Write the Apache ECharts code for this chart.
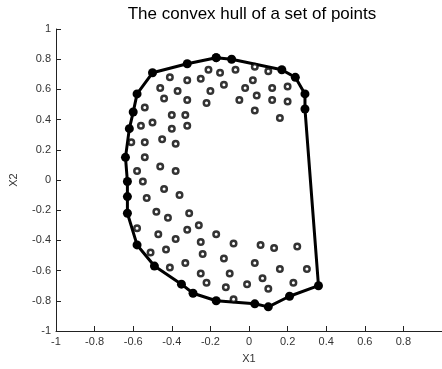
<!DOCTYPE html>
<html>
<head>
<meta charset="utf-8">
<script src="https://cdn.jsdelivr.net/npm/echarts@6/dist/echarts.min.js"></script>
<style>
  html, body { margin: 0; padding: 0; background: #fff; }
  #chart { width: 442px; height: 369px; }
</style>
</head>
<body>
<div id="chart"></div>
<script>
// hull vertices, clockwise from the top
var hullPoints = [
    [-0.17, 0.81], [-0.09, 0.80], [0.17, 0.73], [0.24, 0.68], [0.29, 0.57],
    [0.29, 0.47], [0.36, -0.70], [0.21, -0.77], [0.10, -0.84], [0.03, -0.82],
    [-0.17, -0.80], [-0.29, -0.75], [-0.35, -0.69], [-0.49, -0.57], [-0.58, -0.43],
    [-0.63, -0.22], [-0.63, -0.11], [-0.63, -0.01], [-0.64, 0.15], [-0.62, 0.34],
    [-0.60, 0.45], [-0.58, 0.57], [-0.50, 0.71], [-0.32, 0.77], [-0.17, 0.81]
];

// the remaining points of the set
var setPoints = [
    [0.03, 0.75], [0.10, 0.72], [-0.08, -0.79],
    [-0.41, 0.68], [-0.32, 0.66], [-0.25, 0.67], [-0.21, 0.73], [-0.15, 0.71],
    [-0.46, 0.61], [-0.37, 0.59], [-0.20, 0.59], [-0.13, 0.63], [-0.44, 0.54],
    [-0.32, 0.53], [-0.22, 0.51], [-0.54, 0.48], [-0.40, 0.43], [-0.33, 0.43],
    [-0.56, 0.36], [-0.50, 0.38], [-0.32, 0.36], [-0.40, 0.34], [-0.54, 0.25],
    [-0.45, 0.27], [-0.38, 0.24], [-0.61, 0.25], [-0.54, 0.15], [-0.58, 0.06],
    [-0.46, 0.09], [-0.38, 0.06], [-0.55, -0.01], [-0.44, -0.06], [-0.36, -0.10],
    [-0.53, -0.12], [-0.48, -0.21], [-0.42, -0.25], [-0.31, -0.22], [-0.58, -0.32],
    [-0.47, -0.36], [-0.38, -0.39], [-0.32, -0.33], [-0.26, -0.30], [-0.25, -0.41],
    [-0.17, -0.36], [-0.51, -0.48], [-0.43, -0.46], [-0.24, -0.49], [-0.41, -0.58],
    [-0.33, -0.55], [-0.25, -0.62], [-0.22, -0.68], [-0.08, -0.42], [0.06, -0.43],
    [0.13, -0.45], [0.25, -0.44], [-0.13, -0.52], [0.03, -0.55], [0.16, -0.59],
    [0.30, -0.59], [-0.10, -0.62], [0.07, -0.65], [-0.12, -0.71], [-0.01, -0.69],
    [0.10, -0.72], [0.23, -0.68], [-0.07, 0.73], [0.02, 0.66], [-0.02, 0.61],
    [0.12, 0.61], [0.20, 0.62], [-0.05, 0.53], [0.04, 0.56], [0.12, 0.53],
    [0.20, 0.52], [0.03, 0.46], [0.16, 0.41]
];

var axisMin = -1;
var axisMax = 1;
var axisStep = 0.2;

var font = '"Liberation Sans", Arial, sans-serif';

function makeAxis(name, gap, rotate) {
    return {
        type: 'value',
        min: axisMin,
        max: axisMax,
        interval: axisStep,
        name: name,
        nameLocation: 'middle',
        nameGap: gap,
        nameRotate: rotate,
        nameTextStyle: { color: '#333', fontSize: 11, fontFamily: font },
        axisLine: { onZero: false, lineStyle: { color: '#222', width: 1 } },
        axisTick: { inside: true, length: 5, lineStyle: { color: '#222' } },
        axisLabel: { color: '#333', fontSize: 11, fontFamily: font, margin: 5 },
        splitLine: { show: false }
    };
}

var chart = echarts.init(document.getElementById('chart'));

var xAxis = makeAxis('X1', 22, 0);
xAxis.axisLabel.showMaxLabel = false;
var yAxis = makeAxis('X2', 37, 90);

chart.setOption({
    animation: false,
    backgroundColor: '#fff',
    title: {
        text: 'The convex hull of a set of points',
        left: 247,
        textAlign: 'center',
        top: 1,
        textStyle: { color: '#000', fontSize: 17, fontWeight: 'normal', fontFamily: font }
    },
    grid: { left: 52, top: 29, right: 0, bottom: 33 },
    xAxis: xAxis,
    yAxis: yAxis,
    series: [
        {
            type: 'line',
            data: hullPoints,
            symbol: 'circle',
            symbolSize: 9,
            showAllSymbol: true,
            itemStyle: { color: '#000' },
            lineStyle: { color: '#000', width: 3, join: 'round' },
            z: 2
        },
        {
            type: 'scatter',
            data: setPoints,
            symbol: 'circle',
            symbolSize: 5.5,
            itemStyle: { color: '#fff', borderColor: '#000', borderWidth: 2.5 },
            z: 3
        }
    ]
});
</script>
</body>
</html>
